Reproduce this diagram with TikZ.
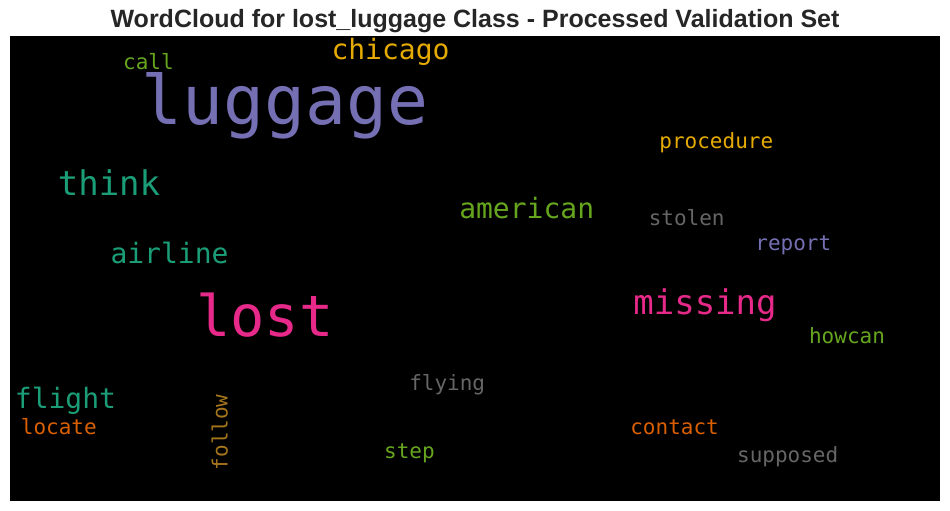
\documentclass[tikz,border=0pt]{standalone}
\usepackage{fontspec}
\setmainfont{Liberation Sans}
\newfontfamily\cloudfont{DejaVu Sans Mono}
\definecolor{dteal}{HTML}{1B9E77}
\definecolor{dorange}{HTML}{D95F02}
\definecolor{dpurple}{HTML}{7570B3}
\definecolor{dpink}{HTML}{E7298A}
\definecolor{dgreen}{HTML}{66A61E}
\definecolor{dyellow}{HTML}{E6AB02}
\definecolor{dbrown}{HTML}{A6761D}
\definecolor{dgray}{HTML}{666666}
\definecolor{titlecol}{HTML}{262626}
\tikzset{
  word/.style={inner sep=0pt, outer sep=0pt, anchor=base},
  fs/.style={font=\cloudfont\fontsize{#1}{#1}\selectfont}
}
\begin{document}
\begin{tikzpicture}[x=1pt,y=-1pt]
\useasboundingbox (0,0) rectangle (950,511);
\fill[white] (0,0) rectangle (950,511);
\fill[black] (10,36) rectangle (940,501);
\node[word, font=\bfseries\fontsize{25}{25}\selectfont, text=titlecol] (title) at (475,28) {WordCloud for lost\_luggage Class - Processed Validation Set};
\begin{scope}[yshift=-1.5pt]
\node[word, fs=68, text=dpurple] (luggage) at (285,123.3) {luggage};
\node[word, fs=57, text=dpink] (lost) at (265,335) {lost};
\node[word, fs=21, text=dgreen] (call) at (148.5,68) {call};
\node[word, fs=28, text=dyellow] (chicago) at (390.5,58) {chicago};
\node[word, fs=34, text=dteal] (think) at (109,194.3) {think};
\node[word, fs=28, text=dteal] (airline) at (169.5,261.7) {airline};
\node[word, fs=28, text=dgreen] (american) at (526.7,216.7) {american};
\node[word, fs=21, text=dyellow] (procedure) at (716.3,147.3) {procedure};
\node[word, fs=21, text=dgray] (stolen) at (686.7,224) {stolen};
\node[word, fs=21, text=dpurple] (report) at (793.3,249.3) {report};
\node[word, fs=34, text=dpink] (missing) at (705,313) {missing};
\node[word, fs=21, text=dgreen] (howcan) at (847,342) {howcan};
\node[word, fs=28, text=dteal] (flight) at (65.5,406.7) {flight};
\node[word, fs=21, text=dorange] (locate) at (58.8,433.3) {locate};
\node[word, fs=21, text=dbrown, rotate=90] (follow) at (227.5,430.8) {follow};
\node[word, fs=21, text=dgray] (flying) at (447.2,389) {flying};
\node[word, fs=21, text=dorange] (contact) at (674.6,433.3) {contact};
\node[word, fs=21, text=dgreen] (step) at (409.4,456.7) {step};
\node[word, fs=21, text=dgray] (supposed) at (787.7,460.7) {supposed};
\end{scope}
\end{tikzpicture}
\end{document}
